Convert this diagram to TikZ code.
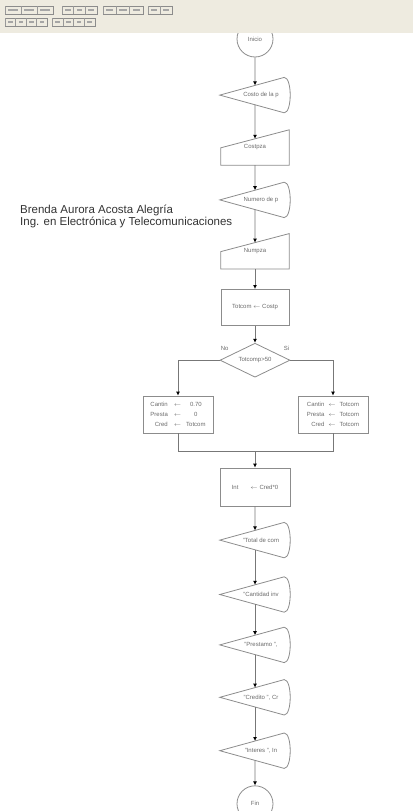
\documentclass[tikz,border=0pt]{standalone}
\usepackage{fontspec}
\setmainfont{Liberation Sans}
\usetikzlibrary{shapes.geometric,positioning,arrows.meta,calc}

\definecolor{linegray}{HTML}{8C8C8C}
\definecolor{txtgray}{HTML}{6A6A6A}
\definecolor{barbeige}{HTML}{EEEBE0}

% display shape: pointed left side, bulging right side
\newcommand{\dispout}[1]{%
  \draw[outl] (#1.west) -- ([xshift=-6pt]#1.north east)
    .. controls ([xshift=2pt]#1.north east) and ([xshift=2pt]#1.south east) .. ([xshift=-6pt]#1.south east) -- cycle;
  \path (#1.west) -- ([xshift=-6pt]#1.north east) coordinate[pos=0.547] (#1-in);
  \path (#1.west) -- ([xshift=-6pt]#1.south east) coordinate[pos=0.547] (#1-out);}

% manual input: slanted top
\newcommand{\manout}[1]{%
  \draw[outl] (#1.south west) -- ([yshift=-18pt]#1.north west) -- (#1.north east) -- (#1.south east) -- cycle;
  \path ([yshift=-18pt]#1.north west) -- (#1.north east) coordinate[pos=0.5] (#1-in);}

\begin{document}
\begin{tikzpicture}
  [
  x=1pt, y=-1pt,
  outl/.style={draw=linegray, line width=0.8pt},
  shapetxt/.style={font=\fontsize{6}{10}\selectfont, text=txtgray, inner sep=0pt},
  disp/.style={shapetxt, minimum width=70pt, minimum height=35pt,
      execute at begin node={\hspace*{12pt}}},
  manin/.style={shapetxt, minimum width=68pt, minimum height=35pt},
  proc/.style={shapetxt, outl, rectangle, minimum width=68pt, minimum height=37pt},
  decide/.style={shapetxt, outl, diamond, aspect=2, minimum width=70pt, minimum height=34pt},
  term/.style={shapetxt, outl, circle, minimum size=36pt},
  flow/.style={draw=linegray!85!black, line width=0.8pt, -{Latex[length=4pt,width=4pt,color=black]}},
  conn/.style={draw=linegray!85!black, line width=0.8pt}
  ]

  \useasboundingbox (0,0) rectangle (413,811);

  \node (ini) [term] at (255,39) {Inicio};
  \node (cost) [disp, below=20pt of ini] {Costo de la p};
  \node (cpz) [manin, below=17pt of cost] {Costpza};
  \node (nump) [disp, below=17pt of cpz] {Numero de p};
  \node (vpz) [manin, below=16pt of nump] {Numpza};
  \node (tot) [proc, below=20pt of vpz, minimum height=36pt] {Totcom $\leftarrow$ Costp};
  \node (dec) [decide, below=17pt of tot] {Totcomp>50};

  \node (lblno) [shapetxt, above right=9pt and 1pt of dec.west] {No};
  \node (lblsi) [shapetxt, above left=9pt and 1pt of dec.east] {Si};

  \node (lft) [proc, below=18pt of dec, xshift=-77pt, minimum width=70pt]
    {\begin{tabular}{@{}r@{\hspace{6pt}}c@{\hspace{5pt}}c@{}}
      Cantin & $\leftarrow$ & 0.70\\
      Presta & $\leftarrow$ & 0\\
      Cred & $\leftarrow$ & Totcom
    \end{tabular}};
  \node (rgt) [proc, below=18pt of dec, xshift=78pt, minimum width=70pt]
    {\begin{tabular}{@{}r@{\hspace{4pt}}c@{\hspace{4pt}}c@{}}
      Cantin & $\leftarrow$ & Totcom\\
      Presta & $\leftarrow$ & Totcom\\
      Cred & $\leftarrow$ & Totcom
    \end{tabular}};

  \node (intr) [proc, below=90pt of dec, minimum width=70pt, minimum height=38pt]
    {Int\hspace{12pt}$\leftarrow$ Cred*0};
  \coordinate [above=16pt of intr] (mrg);

  \node (dtot) [disp, below=16pt of intr] {"Total de com};
  \node (dcan) [disp, below=19pt of dtot] {"Cantidad inv};
  \node (dpre) [disp, below=15pt of dcan] {"Prestamo ",};
  \node (dcre) [disp, below=17pt of dpre] {"Credito ", Cr};
  \node (dint) [disp, below=18pt of dcre] {"Interes ", In};
  \node (fin) [term, below=17pt of dint] {Fin};

  \node (autor) [anchor=north west, align=left, inner sep=0pt, text=black!80,
      font=\fontsize{11.5}{11.5}\selectfont] at (20,205)
    {Brenda Aurora Acosta Alegría\\Ing. en Electrónica y Telecomunicaciones};

  \foreach \n in {cost, nump, dtot, dcan, dpre, dcre, dint}
    \dispout{\n};
  \foreach \n in {cpz, vpz}
    \manout{\n};

  \draw[flow] (ini.south) -- (cost-in);
  \draw[flow] (cost-out) -- (cpz-in);
  \draw[flow] (cpz.south) -- (nump-in);
  \draw[flow] (nump-out) -- (vpz-in);
  \draw[flow] (vpz.south) -- (tot.north);
  \draw[flow] (tot.south) -- (dec.north);
  \draw[flow] (dec.west) -| (lft.north);
  \draw[flow] (dec.east) -| (rgt.north);
  \draw[conn] (lft.south) |- (mrg);
  \draw[conn] (rgt.south) |- (mrg);
  \draw[flow] (mrg) -- (intr.north);
  \draw[flow] (intr.south) -- (dtot-in);
  \draw[flow] (dtot-out) -- (dcan-in);
  \draw[flow] (dcan-out) -- (dpre-in);
  \draw[flow] (dpre-out) -- (dcre-in);
  \draw[flow] (dcre-out) -- (dint-in);
  \draw[flow] (dint-out) -- (fin.north);

  % toolbar strip
  \fill[barbeige] (0,0) rectangle (413,33);
  \foreach \xa/\xb/\ya/\k in {5/53/6/3, 62/97/6/3, 103/143/6/3, 148/172/6/2,
                              5/47/18/4, 52/95/18/4} {
    \pgfmathsetmacro\w{(\xb-\xa)/\k}
    \draw[black!45, line width=0.5pt] (\xa,\ya) rectangle (\xb,\ya+8);
    \foreach \j in {1,...,\k} {
      \pgfmathsetmacro\c{\xa+(\j-1)*\w}
      \draw[black!40, line width=0.4pt] (\c,\ya) -- (\c,\ya+8);
      \fill[black!35] (\c+3,\ya+3) rectangle (\c+\w-3,\ya+5);
    }
  }
\end{tikzpicture}
\end{document}
